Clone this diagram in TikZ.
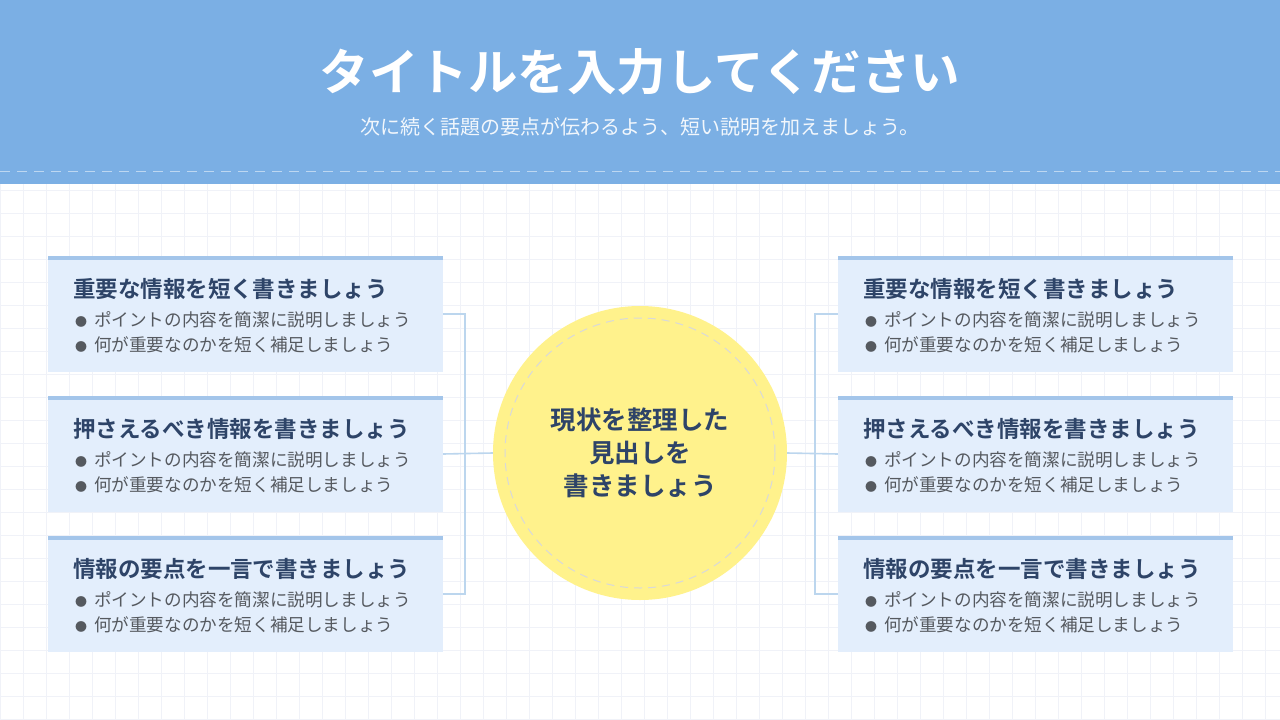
\documentclass[tikz,border=0pt]{standalone}
\usepackage{fontspec}
\newfontfamily\jpfont{Noto Sans CJK JP}
\newfontfamily\jpbold{Noto Sans CJK JP Bold}
\definecolor{headblue}{HTML}{7BAFE4}
\definecolor{boxfill}{HTML}{E3EEFC}
\definecolor{boxtop}{HTML}{A3C5EA}
\definecolor{navy}{HTML}{2E4468}
\definecolor{bodygray}{HTML}{55595F}
\definecolor{gridc}{HTML}{F0F2F8}
\definecolor{linkc}{HTML}{BCD6EE}
\definecolor{sun}{HTML}{FFF28C}
\tikzset{
  box/.style={fill=boxfill,minimum width=395pt,minimum height=116pt,inner sep=0pt},
  head/.style={anchor=west,text=navy,font=\jpbold\fontsize{22.5}{22.5}\selectfont,inner sep=0pt},
  item/.style={anchor=west,text=bodygray,font=\jpfont\fontsize{17.6}{17.6}\selectfont,inner sep=0pt},
  link/.style={draw=linkc,line width=1.6pt}
}
\newcommand{\dotmark}{{\fontsize{12}{12}\selectfont●}\hspace{7pt}}
\begin{document}
\begin{tikzpicture}[x=1pt,y=-1pt]
\useasboundingbox (0,0) rectangle (1280,720);
\fill[white] (0,0) rectangle (1280,720);
% grid
\foreach \g in {0,23,...,1280}{
  \draw[gridc,line width=1pt] (\g,183) -- (\g,720);
}
\foreach \g in {190,213,...,720}{
  \draw[gridc,line width=1pt] (0,\g) -- (1280,\g);
}
% header
\fill[headblue] (0,0) rectangle (1280,184);
\draw[white,opacity=0.5,dashed,dash pattern=on 10pt off 7pt,line width=1pt] (0,171) -- (1280,171);
\node[text=white,font=\jpbold\fontsize{49.5}{49.5}\selectfont] (title) at (640,72) {タイトルを入力してください};
\node[text=white,opacity=0.9,font=\jpfont\fontsize{20}{20}\selectfont] (sub) at (640,127) {次に続く話題の要点が伝わるよう、短い説明を加えましょう。};
% centre
\node[circle,fill=sun,minimum size=294pt] (hub) at (640,453) {};
\draw[black!15,dashed,dash pattern=on 8pt off 6pt,line width=1pt] (hub) circle (135);
\node[text=navy,font=\jpbold\fontsize{25.5}{33}\selectfont,align=center] at (hub) {現状を整理した\\見出しを\\書きましょう};
% boxes
\foreach \side/\x in {L/245.5,R/1035.5}{
  \foreach \n/\y/\t in {1/314/重要な情報を短く書きましょう,2/454/押さえるべき情報を書きましょう,3/594/情報の要点を一言で書きましょう}{
    \node[box] (\side\n) at (\x,\y) {};
    \fill[boxtop] (\side\n.north west) rectangle ([yshift=-4pt]\side\n.north east);
    \node[head] at ([xshift=25pt,yshift=25pt]\side\n.west) {\t};
    \node[item] at ([xshift=27pt,yshift=-6pt]\side\n.west) {\dotmark ポイントの内容を簡潔に説明しましょう};
    \node[item] at ([xshift=27pt,yshift=-31pt]\side\n.west) {\dotmark 何が重要なのかを短く補足しましょう};
  }
}
% connectors
\coordinate (lb) at (465,453);
\coordinate (rb) at (815,453);
\draw[link] (L1.east) -| (lb) |- (L3.east);
\draw[link] (L2.east) -- (hub.west);
\draw[link] (R1.west) -| (rb) |- (R3.west);
\draw[link] (R2.west) -- (hub.east);
\end{tikzpicture}
\end{document}
